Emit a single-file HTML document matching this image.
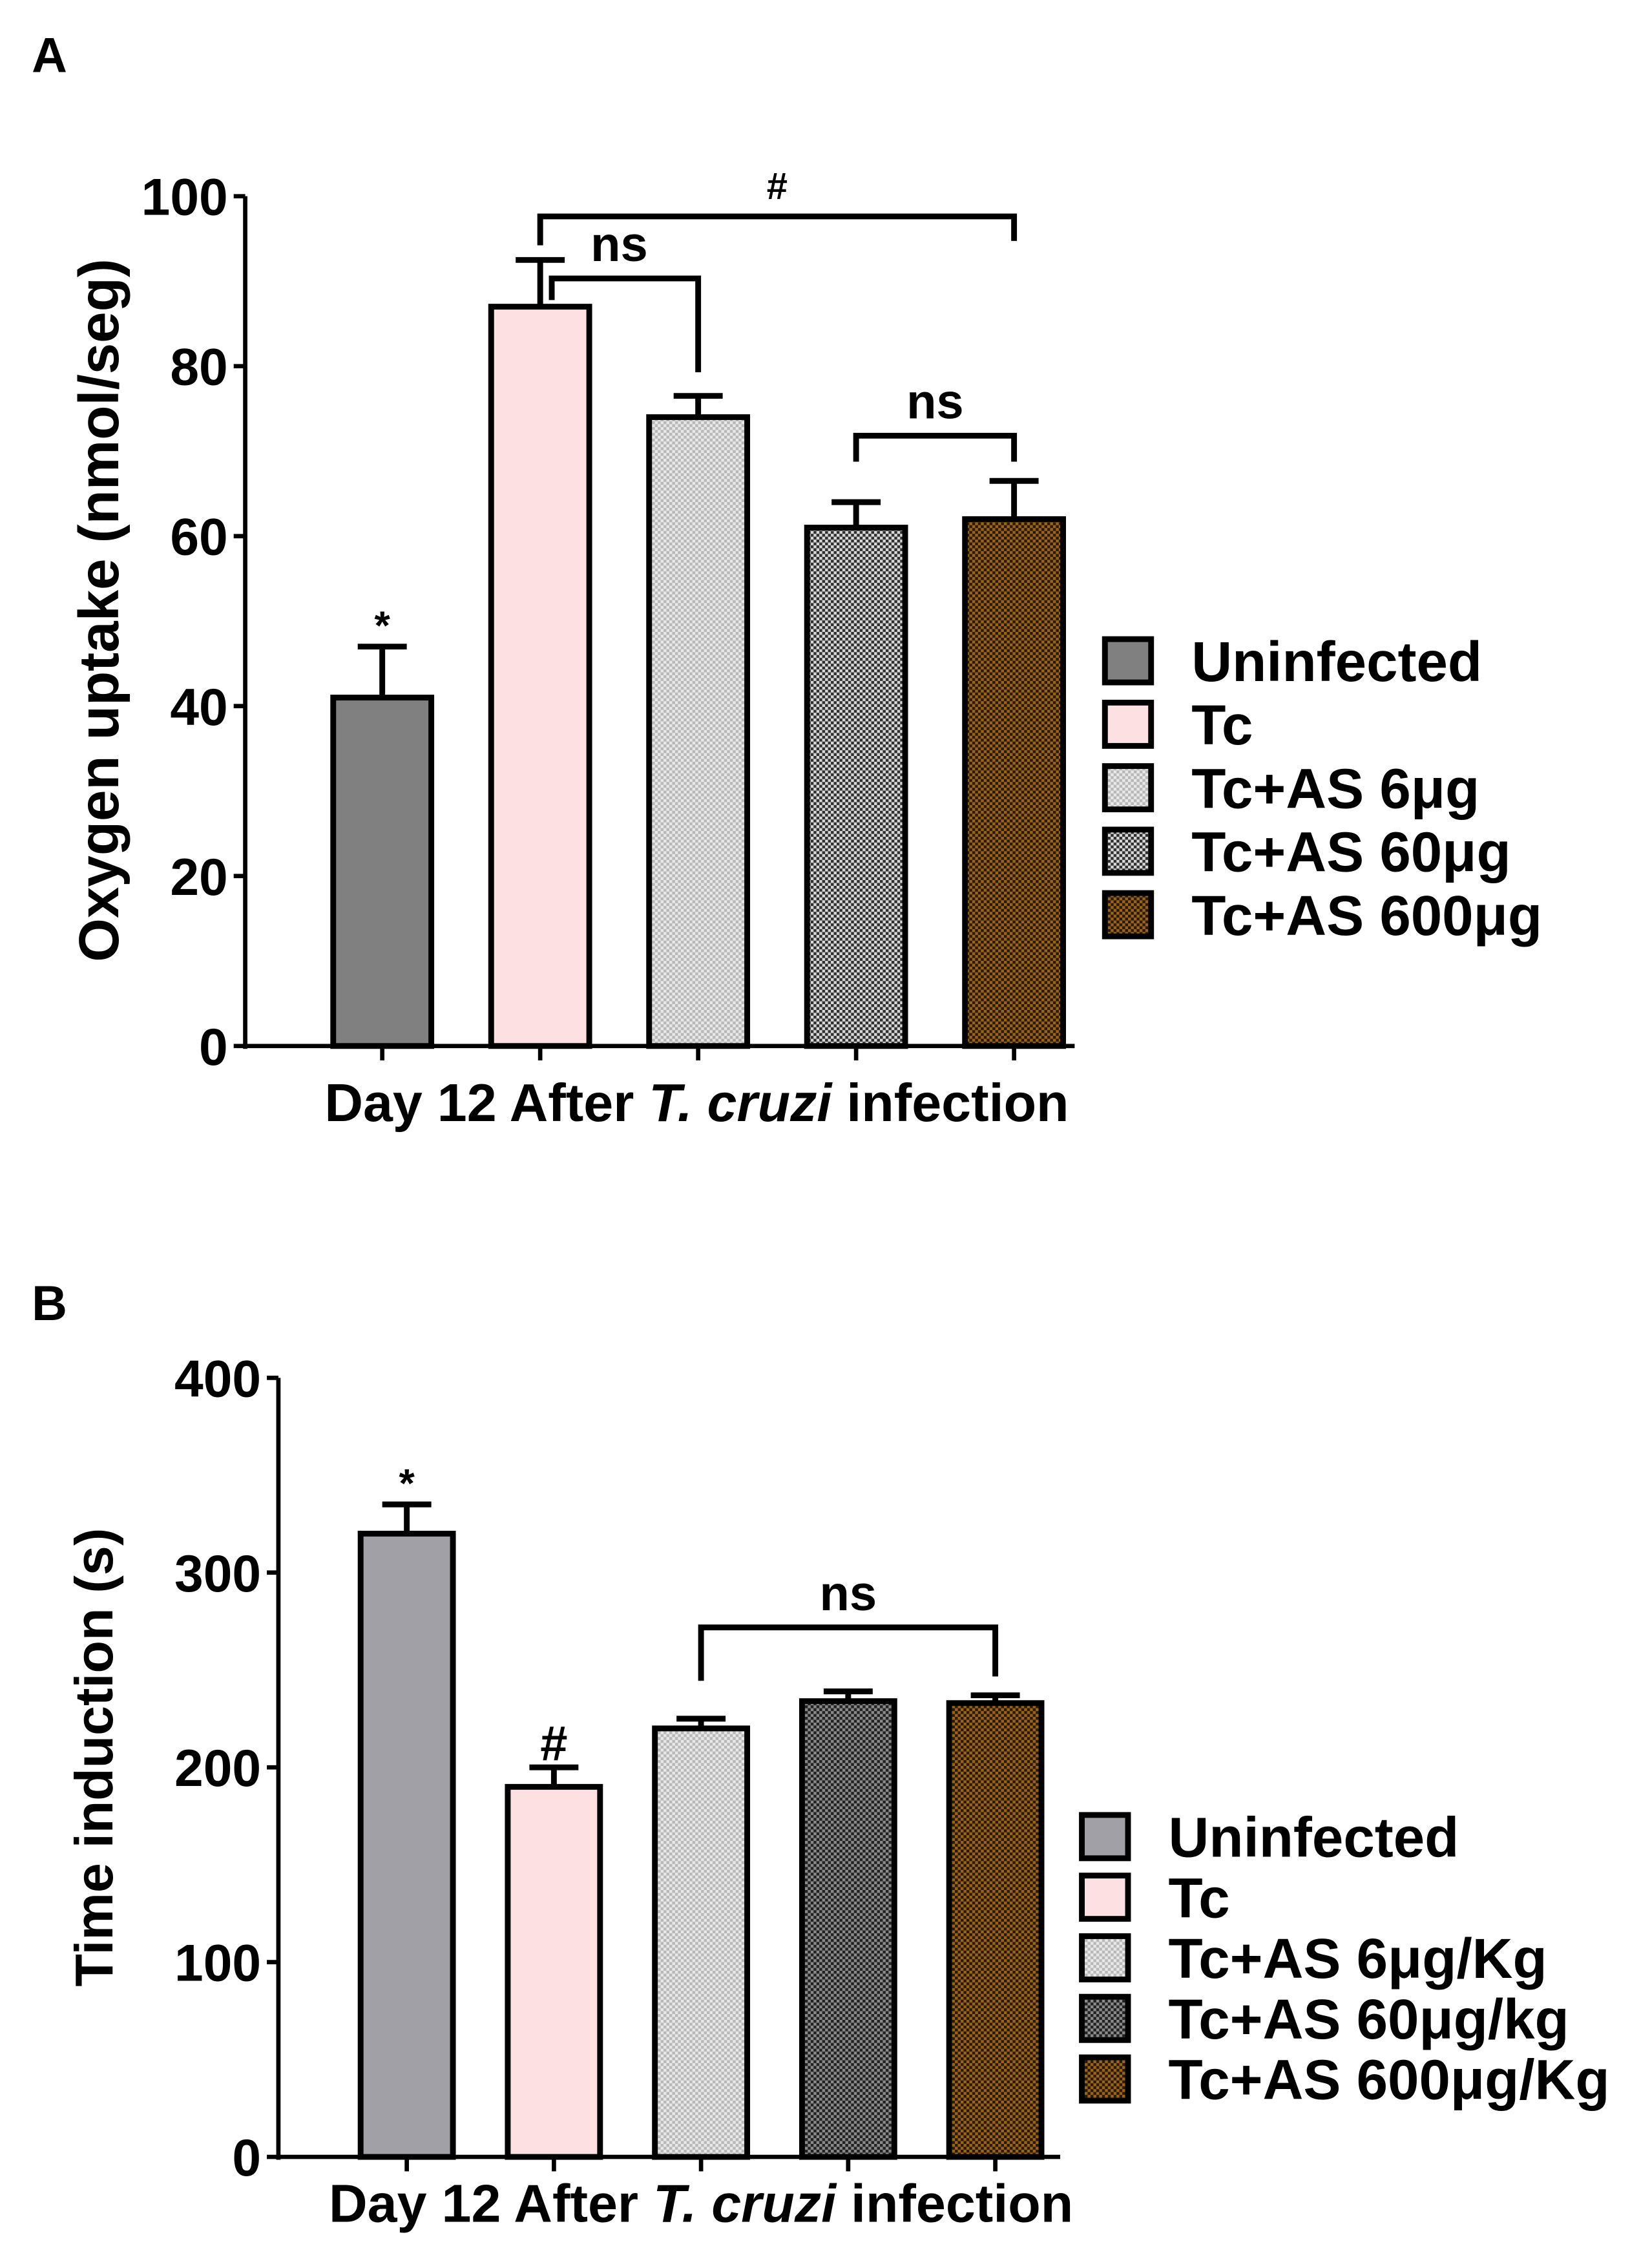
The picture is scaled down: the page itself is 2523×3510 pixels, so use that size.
<!DOCTYPE html>
<html><head><meta charset="utf-8"><style>
html,body{margin:0;padding:0;background:#fff}
svg{display:block}
text{font-family:"Liberation Sans",sans-serif;font-weight:bold;fill:#000}
</style></head><body>
<svg id="fig" width="2523" height="3510" viewBox="0 0 1130 1572" preserveAspectRatio="none" xmlns="http://www.w3.org/2000/svg">
<defs>
<pattern id="p6" width="4" height="4" patternUnits="userSpaceOnUse"><rect width="4" height="4" fill="#e8e8e8"/><rect width="2" height="2" fill="#b8b8b8"/><rect x="2" y="2" width="2" height="2" fill="#b8b8b8"/></pattern>
<pattern id="p60" width="4" height="4" patternUnits="userSpaceOnUse"><rect width="4" height="4" fill="#d8d8d8"/><rect width="2" height="2" fill="#303030"/><rect x="2" y="2" width="2" height="2" fill="#303030"/></pattern>
<pattern id="p60b" width="4" height="4" patternUnits="userSpaceOnUse"><rect width="4" height="4" fill="#8a8a8a"/><rect width="2" height="2" fill="#222"/><rect x="2" y="2" width="2" height="2" fill="#222"/></pattern>
<pattern id="p600" width="4" height="4" patternUnits="userSpaceOnUse"><rect width="4" height="4" fill="#9a6418"/><rect width="2" height="2" fill="#2a1a05"/><rect x="2" y="2" width="2" height="2" fill="#2a1a05"/></pattern>
</defs>
<g id="gA"></g>
<g id="gB"></g>
</svg>
<script>
// Panel A data
const catsA = ["Uninfected","Tc","Tc+AS 6μg","Tc+AS 60μg","Tc+AS 600μg"];
const valsA = [41, 87, 74, 61, 62];
const errA = [6, 5.5, 2.5, 3, 4.5];
const ticksA = [0,20,40,60,80,100];
const marksA = ["*","","","",""];
// Panel B data
const catsB = ["Uninfected","Tc","Tc+AS 6μg/Kg","Tc+AS 60μg/kg","Tc+AS 600μg/Kg"];
const valsB = [320, 190, 220, 234, 233];
const errB = [15, 10, 5, 5, 4];
const ticksB = [0,100,200,300,400];
const marksB = ["*","#","","",""];

const NS="http://www.w3.org/2000/svg";
function mk(parent,tag,attrs,txt){const e=document.createElementNS(NS,tag);for(const k in attrs)e.setAttribute(k,attrs[k]);if(txt!==undefined)e.textContent=txt;parent.appendChild(e);return e;}

function panel(g,cfg){
  const y=v=>cfg.y0-(v-cfg.vmin)/(cfg.vmax-cfg.vmin)*(cfg.y0-cfg.y1);
  const x=i=>cfg.cx0+i*cfg.dx;
  let t=mk(g,'text',{x:22,y:cfg.lblY,'font-size':34},cfg.letter);
  
  
  cfg.vals.forEach((v,i)=>{
    const top=y(v), et=y(v+cfg.err[i]);
    let l=mk(g,'line',{x1:x(i),x2:x(i),y1:top,y2:et,stroke:'#000','stroke-width':4});
    
    
    mk(g,'line',{x1:x(i)-17,x2:x(i)+17,y1:et,y2:et,stroke:'#000','stroke-width':4});
    let r=mk(g,'rect',{x:x(i)-cfg.bw/2,y:top,width:cfg.bw,height:cfg.y0-top,fill:cfg.fills[i],stroke:'#000','stroke-width':4});
    
    
    if(cfg.marks[i]){let m=mk(g,'text',{x:x(i),y:et-5,'font-size':cfg.marks[i]==='*'?28:34,'text-anchor':'middle'},cfg.marks[i]);
      
      }
    mk(g,'line',{x1:x(i),x2:x(i),y1:cfg.y0,y2:cfg.y0+10,stroke:'#000','stroke-width':3});
  });
  let ax=mk(g,'line',{x1:cfg.ax,x2:cfg.ax,y1:cfg.y1,y2:cfg.y0+2,stroke:'#000','stroke-width':3});
  
  
  let xa=mk(g,'line',{x1:cfg.ax,x2:cfg.axEnd,y1:cfg.y0,y2:cfg.y0,stroke:'#000','stroke-width':3});
  
  
  cfg.ticks.forEach(v=>{
    mk(g,'line',{x1:cfg.ax-8,x2:cfg.ax,y1:y(v),y2:y(v),stroke:'#000','stroke-width':3});
    let tl=mk(g,'text',{x:cfg.ax-12,y:y(v)+13,'font-size':36,'text-anchor':'end'},v);
    
    
  });
  let yt=mk(g,'text',{transform:`translate(${cfg.ytX},${cfg.ytY}) rotate(-90)`,'font-size':cfg.ytFs,'text-anchor':'middle'},cfg.ytitle);
  
  
  let xt=mk(g,'text',{x:cfg.xtX,y:cfg.xtY,'font-size':37,'text-anchor':'middle'});
  
  
  mk(xt,'tspan',{},'Day 12 After ');mk(xt,'tspan',{'font-style':'italic'},'T. cruzi');mk(xt,'tspan',{},' infection');
  cfg.brackets.forEach(b=>{
    let p=mk(g,'path',{d:`M${x(b[0])+(b[5]||0)},${b[3]} V${b[2]} H${x(b[1])} V${b[4]}`,fill:'none',stroke:'#000','stroke-width':4});
    
    
    let bt=mk(g,'text',{x:(x(b[0])+x(b[1]))/2,y:b[2]-12,'font-size':b[6]==='#'?26:34,'text-anchor':'middle'},b[6]);
    
    
  });
  cfg.cats.forEach((c,i)=>{
    const ry=cfg.legY+i*cfg.legDy;
    let s=mk(g,'rect',{x:cfg.legX,y:ry-15,width:32,height:30,fill:cfg.fills[i],stroke:'#000','stroke-width':4});
    
    
    let lt=mk(g,'text',{x:cfg.legX+60,y:ry+14,'font-size':39},c);
    
    
  });
}
panel(document.getElementById('gA'),{letter:'A',lblY:50,vmin:0,vmax:100,y0:725,y1:136,ax:170,axEnd:745,cx0:265,dx:109.5,bw:68,
  vals:valsA,err:errA,marks:marksA,ticks:ticksA,cats:catsA,fills:['#808080','#fde0e2','url(#p6)','url(#p60)','url(#p600)'],
  ytitle:'Oxygen uptake (nmol/seg)',ytX:82,ytY:423,ytFs:39,xtX:483,xtY:777,
  brackets:[[1,4,150,170,167,0,'#'],[1,2,193,208,258,8,'ns'],[3,4,302,320,320,0,'ns']],
  legX:766,legY:458,legDy:44});
panel(document.getElementById('gB'),{letter:'B',lblY:915,vmin:0,vmax:400,y0:1495,y1:955,ax:193,axEnd:735,cx0:282,dx:102,bw:64,
  vals:valsB,err:errB,marks:marksB,ticks:ticksB,cats:catsB,fills:['#a0a0a6','#fde0e2','url(#p6)','url(#p60b)','url(#p600)'],
  ytitle:'Time induction (s)',ytX:78,ytY:1218,ytFs:37,xtX:486,xtY:1540,
  brackets:[[2,4,1128,1165,1162,0,'ns']],
  legX:750,legY:1273,legDy:42});
</script>
</body></html>
